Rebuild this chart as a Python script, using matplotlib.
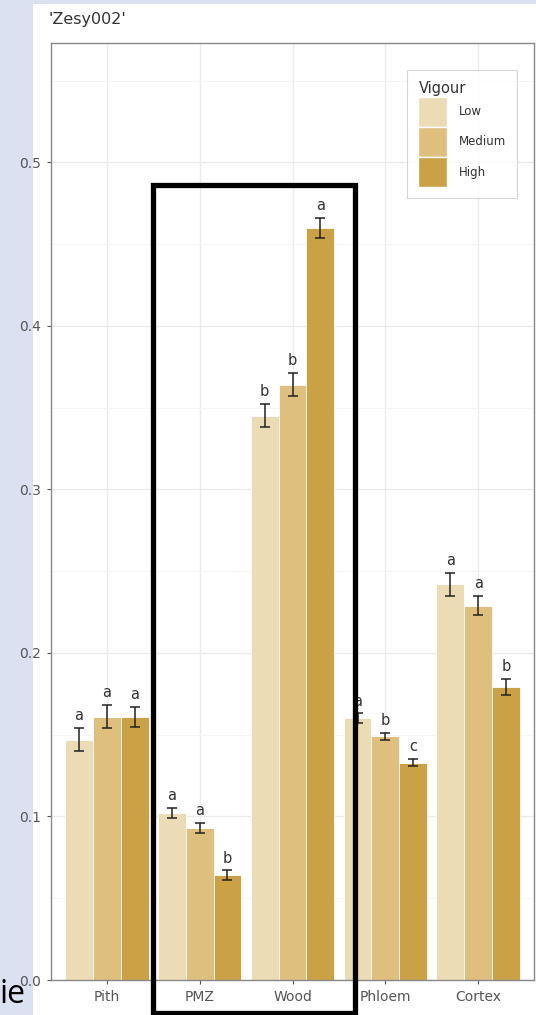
import numpy as np
import matplotlib
matplotlib.use('Agg')
import matplotlib.pyplot as plt
from matplotlib.patches import Rectangle, Patch

# tissue means and standard errors, one list per vigour class
tissues = ['Pith', 'PMZ', 'Wood', 'Phloem', 'Cortex']
vigour = ['Low', 'Medium', 'High']
mean_low = [0.147, 0.102, 0.345, 0.160, 0.242]
mean_med = [0.161, 0.093, 0.364, 0.149, 0.229]
mean_high = [0.161, 0.064, 0.460, 0.133, 0.179]
se_low = [0.007, 0.003, 0.007, 0.003, 0.007]
se_med = [0.007, 0.003, 0.007, 0.002, 0.006]
se_high = [0.006, 0.003, 0.006, 0.002, 0.005]
letters_low = ['a', 'a', 'b', 'a', 'a']
letters_med = ['a', 'a', 'b', 'b', 'a']
letters_high = ['a', 'b', 'a', 'c', 'b']
yticks = [0.0, 0.1, 0.2, 0.3, 0.4, 0.5]

cols = ['#ecdcb6', '#dfbf7e', '#caa144']
means = [mean_low, mean_med, mean_high]
errs = [se_low, se_med, se_high]
lets = [letters_low, letters_med, letters_high]

W, H = 536, 1015
fig = plt.figure(figsize=(W/100, H/100), dpi=100)
fig.patch.set_facecolor('#dae2f2')
# white slide area behind the plot
fig.patches.append(Rectangle((33/W, 0), 1, (H-4)/H, transform=fig.transFigure,
	facecolor='white', edgecolor='none', zorder=-5))

ax = fig.add_axes([51/W, (H-980)/H, (534-51)/W, (980-43)/H])
ax.set_zorder(1)
ax.set_facecolor('white')
x = np.arange(1, len(tissues)+1)
bw = 0.3
for i in range(3):
	xs = x + (i-1)*bw
	ax.bar(xs, means[i], width=bw, color=cols[i], edgecolor='white',
		linewidth=0.6, zorder=2, label=vigour[i])
	ax.errorbar(xs, means[i], yerr=errs[i], fmt='none', ecolor='#222222',
		elinewidth=1.1, capsize=3.8, capthick=1.1, zorder=3)
	for xx, m, e, t in zip(xs, means[i], errs[i], lets[i]):
		ax.text(xx, m+e+0.003, t, ha='center', va='bottom', fontsize=10.5,
			color='#333333', zorder=4)

ax.set_xlim(0.4, 5.6)
ax.set_ylim(0, 0.573)
ax.set_xticks(x)
ax.set_xticklabels(tissues)
ax.set_yticks(yticks)
ax.set_yticklabels(['0.0', '0.1', '0.2', '0.3', '0.4', '0.5'])
ax.set_yticks(np.arange(0.05, 0.6, 0.1), minor=True)
ax.grid(True, which='major', color='#ebebeb', linewidth=1.0, zorder=0)
ax.grid(True, which='minor', axis='y', color='#f4f4f4', linewidth=0.6, zorder=0)
ax.set_axisbelow(True)
ax.tick_params(axis='both', which='major', colors='#555555', labelsize=10,
	length=3, pad=4, labelcolor='#555555')
ax.tick_params(axis='both', which='minor', length=0)
for s in ax.spines.values():
	s.set_color('#888888')
	s.set_linewidth(1.0)

ax.set_title("'Zesy002'", loc='left', fontsize=11.5, color='#333333',
	pad=14, x=-0.005)

handles = [Patch(facecolor=c, edgecolor='white') for c in cols]
leg = ax.legend(handles, vigour, title='Vigour', loc='upper right',
	bbox_to_anchor=((517-51)/(534-51), (980-70)/(980-43)), fontsize=8.5,
	title_fontsize=10.5, frameon=True, fancybox=False, handlelength=2.4,
	handleheight=3.5, labelspacing=0.05, borderpad=0.95, handletextpad=1.0,
	borderaxespad=0)
leg.get_frame().set_edgecolor('#cccccc')
leg.get_frame().set_linewidth(0.8)
leg._legend_box.align = 'left'
for t in leg.get_texts():
	t.set_color('#333333')
leg.get_title().set_color('#333333')

# highlight box around PMZ and Wood
fig.patches.append(Rectangle((153/W, (H-1013)/H), (355-153)/W, (1013-185)/H,
	transform=fig.transFigure, fill=False, edgecolor='black', linewidth=3.8,
	zorder=10))

fig.text(0/W, (H-1003)/H, 'ie', fontsize=23, color='black', ha='left',
	va='baseline', family='Open Sans', zorder=10)

fig.savefig('out.png', dpi=100)
